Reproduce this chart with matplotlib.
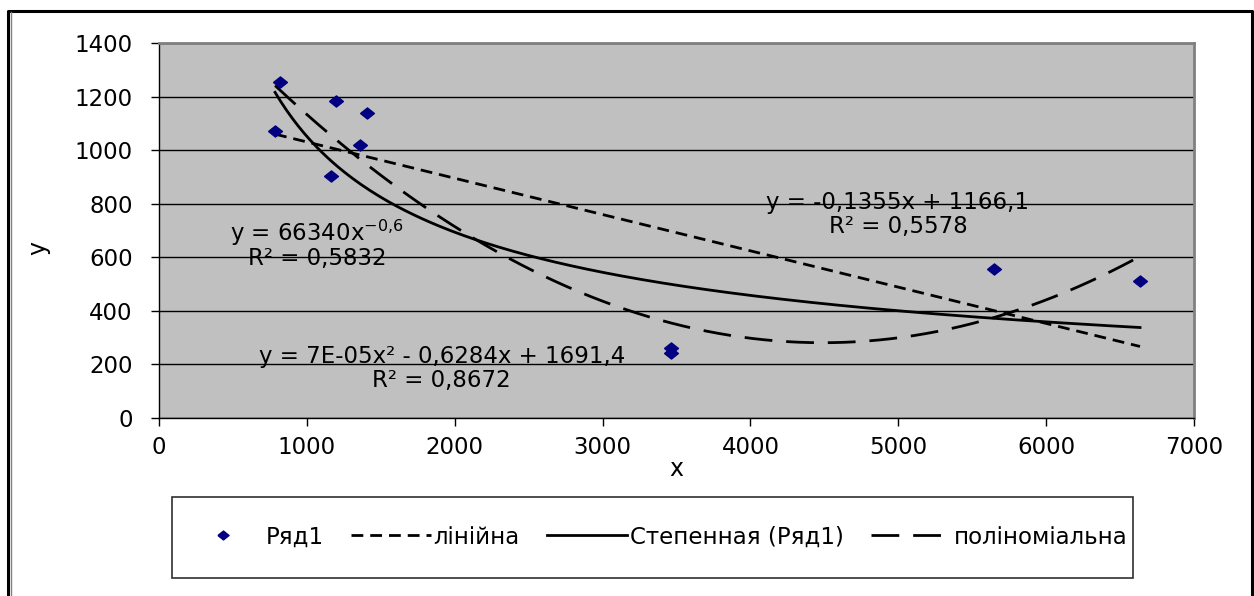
import numpy as np
import matplotlib
matplotlib.use("Agg")
import matplotlib.pyplot as plt
from matplotlib.lines import Line2D
from matplotlib.patches import Rectangle

plt.rcParams['font.family'] = ['DejaVu Sans']
plt.rcParams['lines.scale_dashes'] = False

# observed points
x_vals = [785, 818, 1161, 1195, 1359, 1409, 3460, 3460, 5650, 6635]
y_vals = [1071, 1254, 903, 1185, 1019, 1140, 261, 244, 555, 511]

# fitted trend coefficients (as printed on the chart)
lin_k, lin_b = -0.1355, 1166.1
pow_a, pow_n = 66340, -0.6
poly_a, poly_b, poly_c = 7e-05, -0.6284, 1691.4

series_name = 'Ряд1'
legend_names = ['лінійна', 'Степенная (Ряд1)', 'поліноміальна']

W, H = 1254, 596
fig = plt.figure(figsize=(W / 100, H / 100), dpi=100)


def px(x, y):
    # pixel position (from top-left) -> figure fraction
    return x / W, 1 - y / H


ax = fig.add_axes([159 / W, 1 - 418 / H, (1194 - 159) / W, (418 - 43) / H])
ax.set_facecolor('#c0c0c0')

lw = 2.0
short_dash = (8.5, 5)
long_dash = (20, 10)

xs = np.array(x_vals, dtype=float)
xx = np.linspace(xs.min(), xs.max(), 300)
ax.plot(xx, lin_k * xx + lin_b, color='black', lw=lw, dashes=short_dash, zorder=3)
ax.plot(xx, pow_a * xx ** pow_n, color='black', lw=lw, zorder=3)
ax.plot(xx, poly_a * xx ** 2 + poly_b * xx + poly_c, color='black', lw=lw,
        dashes=long_dash, zorder=3)

diamond = [(-1, 0), (0, 0.8), (1, 0), (0, -0.8), (-1, 0)]
ax.plot(x_vals, y_vals, linestyle='none', marker=diamond, markersize=10,
        color='#000080', zorder=4)

ax.set_xlim(0, 7000)
ax.set_ylim(0, 1400)
ax.set_xticks(np.arange(0, 7001, 1000))
ax.set_yticks(np.arange(0, 1401, 200))
ax.yaxis.grid(True, color='black', lw=1)
ax.set_axisbelow(True)
ax.tick_params(axis='both', direction='out', length=6, width=1, labelsize=16.5)
ax.tick_params(axis='y', pad=13)
ax.tick_params(axis='x', pad=7)
for side in ['left', 'bottom']:
    ax.spines[side].set_color('black')
    ax.spines[side].set_linewidth(1)
for side in ['top', 'right']:
    ax.spines[side].set_color('#808080')
    ax.spines[side].set_linewidth(2)

fig.text(*px(676, 469), 'x', fontsize=17, ha='center', va='center')
fig.text(*px(38, 248), 'y', fontsize=17, ha='center', va='center', rotation=90)

# trendline equations
eq_fs = 16.5
fig.text(*px(897, 202), 'y = -0,1355x + 1166,1', fontsize=eq_fs, ha='center', va='center')
fig.text(*px(898, 227), 'R² = 0,5578', fontsize=eq_fs, ha='center', va='center')
fig.text(*px(317, 233), r'y = 66340x$^{\mathregular{-0{,}6}}$', fontsize=eq_fs,
         ha='center', va='center')
fig.text(*px(317, 259), 'R² = 0,5832', fontsize=eq_fs, ha='center', va='center')
fig.text(*px(442, 357), 'y = 7E-05x² - 0,6284x + 1691,4', fontsize=eq_fs,
         ha='center', va='center')
fig.text(*px(441, 381), 'R² = 0,8672', fontsize=eq_fs, ha='center', va='center')

# legend
handles = [
    Line2D([], [], linestyle='none', marker=diamond, markersize=8, color='#000080'),
    Line2D([], [], color='black', lw=lw, dashes=short_dash),
    Line2D([], [], color='black', lw=lw),
    Line2D([], [], color='black', lw=lw, dashes=long_dash),
]
fig.legend(handles, [series_name] + legend_names, loc='center',
           bbox_to_anchor=px(655, 537), ncol=4, frameon=False,
           prop={'size': 16.5},
           handlelength=3.5, handletextpad=0.1, columnspacing=1.2)
x0, y0 = px(172, 578)
x1, y1 = px(1133, 497)
fig.add_artist(Rectangle((x0, y0), x1 - x0, y1 - y0, transform=fig.transFigure,
                         fill=False, edgecolor='#303030', lw=1.2))

# outer frame (open at the bottom)
fx0, fy0 = px(8, 600)
fx1, fy1 = px(1252, 10.5)
fig.add_artist(Line2D([fx0, fx0, fx1, fx1], [fy0, fy1, fy1, fy0],
                      transform=fig.transFigure, color='black', lw=2.2))
gx, _ = px(10.5, 0)
fig.add_artist(Line2D([gx, gx], [fy0, px(0, 12)[1]], transform=fig.transFigure,
                      color='#808080', lw=1))

fig.savefig('out.png', dpi=100)
